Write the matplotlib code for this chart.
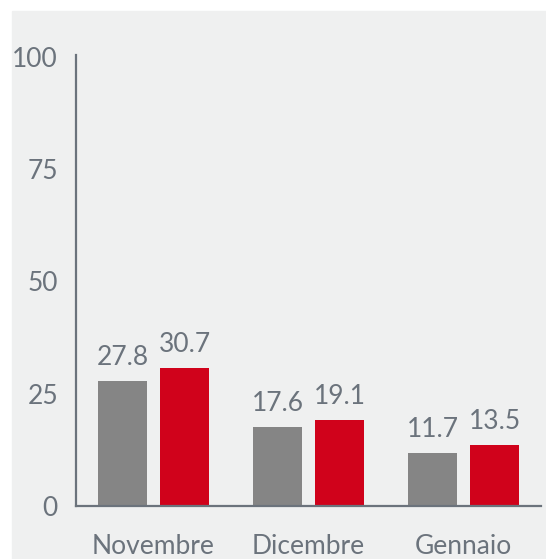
import matplotlib.pyplot as plt
import matplotlib.patches as mpatches
import numpy as np

# dati
mesi = ["Novembre", "Dicembre", "Gennaio"]
serie_grigia = [27.8, 17.6, 11.7]
serie_rossa = [30.7, 19.1, 13.5]
y_ticks = [0, 25, 50, 75, 100]

col_grigio = "#858585"
col_rosso = "#d0021b"
col_testo = "#6b737c"
col_sfondo = "#eff0f0"

plt.rcParams['font.family'] = ['Lato', 'DejaVu Sans']

fig = plt.figure(figsize=(5.46, 5.59), dpi=100)
fig.patch.set_facecolor("white")
# sfondo grigio con margine bianco in alto e a sinistra
fig.patches.append(mpatches.Rectangle((12 / 546, 0), 1, 1 - 11 / 559,
                                      transform=fig.transFigure, color=col_sfondo, zorder=-10))

ax = fig.add_axes([76 / 546, 53 / 559, 465 / 546, 451 / 559])
ax.set_facecolor("none")

x = np.arange(len(mesi))
w = 0.32
b1 = ax.bar(x - 0.2, serie_grigia, width=w, color=col_grigio)
b2 = ax.bar(x + 0.2, serie_rossa, width=w, color=col_rosso)

for bars, vals in [(b1, serie_grigia), (b2, serie_rossa)]:
    for r, v in zip(bars, vals):
        ax.annotate(f"{v:.1f}", (r.get_x() + r.get_width() / 2, v), xytext=(0, 8),
                    textcoords="offset points", ha="center", va="bottom",
                    fontsize=19, color=col_testo)

ax.set_xlim(-0.5, 2.5)
ax.set_ylim(0, 100.4)
ax.set_xticks(x)
ax.set_xticklabels(mesi)
ax.set_yticks(y_ticks)
ax.tick_params(axis="both", length=0, labelsize=19, labelcolor=col_testo)
ax.tick_params(axis="x", pad=20.5)
ax.tick_params(axis="y", pad=13)

for s in ["top", "right"]:
    ax.spines[s].set_visible(False)
for s in ["left", "bottom"]:
    ax.spines[s].set_color(col_testo)
    ax.spines[s].set_linewidth(1.6)

fig.savefig("out.png", dpi=100)
